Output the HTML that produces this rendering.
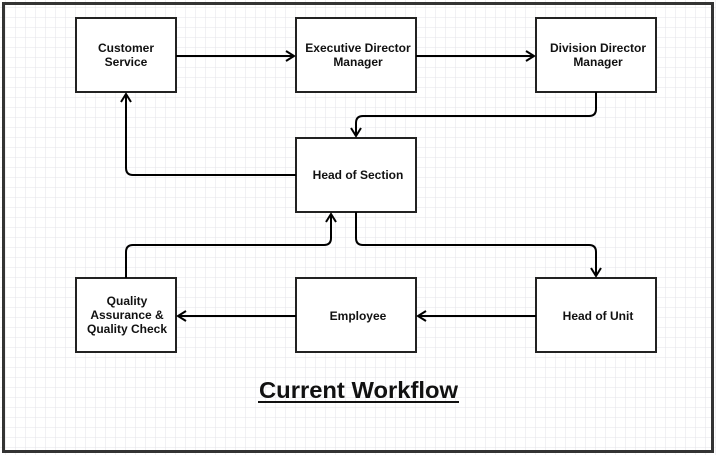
<!DOCTYPE html>
<html><head><style>
html,body{margin:0;padding:0;width:716px;height:455px;overflow:hidden;background:#fff;}
svg{display:block;font-family:"Liberation Sans",Arial,sans-serif;}
</style></head><body>
<svg width="716" height="455" viewBox="0 0 716 455">
<defs>
<pattern id="g" width="10" height="10" patternUnits="userSpaceOnUse" x="6" y="8">
<path d="M10 0V10M0 10H10" fill="none" stroke="#e3e3e8" stroke-width="1"/>
</pattern>
<marker id="a" markerWidth="12" markerHeight="12" refX="9" refY="6" orient="auto" markerUnits="userSpaceOnUse">
<path d="M1 1L9 6L1 11" fill="none" stroke="#000" stroke-width="2"/>
</marker>
</defs>
<rect x="0" y="0" width="716" height="455" fill="url(#g)"/>
<rect x="3.5" y="3.5" width="709" height="448" fill="none" stroke="#333" stroke-width="3"/>
<g fill="#fff" stroke="#222" stroke-width="2">
<rect x="76" y="18" width="100" height="74"/>
<rect x="296" y="18" width="120" height="74"/>
<rect x="536" y="18" width="120" height="74"/>
<rect x="296" y="138" width="120" height="74"/>
<rect x="76" y="278" width="100" height="74"/>
<rect x="296" y="278" width="120" height="74"/>
<rect x="536" y="278" width="120" height="74"/>
</g>
<g fill="none" stroke="#000" stroke-width="2" marker-end="url(#a)">
<path d="M176 56H294"/>
<path d="M416 56H534"/>
<path d="M596 92V109Q596 116 589 116H363Q356 116 356 123V136"/>
<path d="M296 175H133Q126 175 126 168V94"/>
<path d="M126 278V252Q126 245 133 245H324Q331 245 331 238V214"/>
<path d="M356 212V238Q356 245 363 245H589Q596 245 596 252V276"/>
<path d="M536 316H418"/>
<path d="M296 316H178"/>
</g>
<g font-size="12" font-weight="bold" text-anchor="middle" fill="#111">
<text x="126" y="52">Customer</text><text x="126" y="66">Service</text>
<text x="358" y="52">Executive Director</text><text x="358" y="66">Manager</text>
<text x="598" y="52">Division Director</text><text x="598" y="66">Manager</text>
<text x="358" y="179">Head of Section</text>
<text x="127" y="305">Quality</text><text x="127" y="319">Assurance &amp;</text><text x="127" y="333">Quality Check</text>
<text x="358" y="320">Employee</text>
<text x="598" y="320">Head of Unit</text>
</g>
<text x="259" y="398" font-size="23" font-weight="bold" fill="#111" textLength="199" lengthAdjust="spacingAndGlyphs">Current Workflow</text>
<line x1="258" y1="402" x2="459" y2="402" stroke="#111" stroke-width="2"/>
</svg>
</body></html>
